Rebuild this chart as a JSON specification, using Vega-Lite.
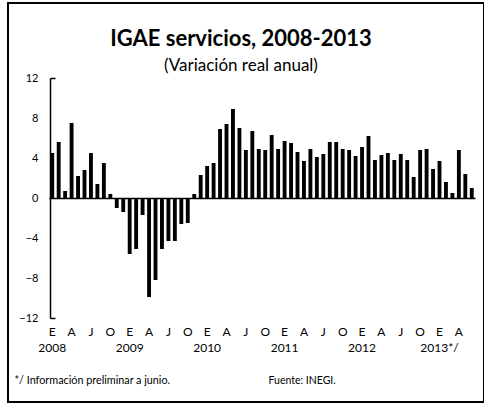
{
  "$schema": "https://vega.github.io/schema/vega-lite/v6.json",
  "autosize": {"type": "none"},
  "padding": {"left": 8, "top": 3, "right": 0, "bottom": 8},
  "width": 476,
  "height": 399,
  "background": "white",
  "title": {
    "text": "IGAE servicios, 2008-2013",
    "subtitle": "(Variación real anual)",
    "anchor": "middle",
    "offset": -72,
    "dx": -5,
    "font": "Lato",
    "fontSize": 22,
    "fontWeight": "bold",
    "color": "black",
    "subtitleFont": "Lato",
    "subtitleFontSize": 17,
    "subtitleColor": "black",
    "subtitlePadding": 7
  },
  "config": {
    "view": {"stroke": "black", "strokeWidth": 2},
    "font": "Lato",
    "axis": {"grid": false, "labelColor": "black", "titleColor": "black"}
  },
  "data": {
    "values": [
      {"periodo": "2008-01", "valor": 4.5}, {"periodo": "2008-02", "valor": 5.6}, {"periodo": "2008-03", "valor": 0.7},
      {"periodo": "2008-04", "valor": 7.5}, {"periodo": "2008-05", "valor": 2.2}, {"periodo": "2008-06", "valor": 2.8},
      {"periodo": "2008-07", "valor": 4.5}, {"periodo": "2008-08", "valor": 1.4}, {"periodo": "2008-09", "valor": 3.5},
      {"periodo": "2008-10", "valor": 0.4}, {"periodo": "2008-11", "valor": -1.0}, {"periodo": "2008-12", "valor": -1.4},
      {"periodo": "2009-01", "valor": -5.6}, {"periodo": "2009-02", "valor": -5.1}, {"periodo": "2009-03", "valor": -1.7},
      {"periodo": "2009-04", "valor": -9.9}, {"periodo": "2009-05", "valor": -8.2}, {"periodo": "2009-06", "valor": -5.1},
      {"periodo": "2009-07", "valor": -4.3}, {"periodo": "2009-08", "valor": -4.3}, {"periodo": "2009-09", "valor": -2.6},
      {"periodo": "2009-10", "valor": -2.5}, {"periodo": "2009-11", "valor": 0.4}, {"periodo": "2009-12", "valor": 2.3},
      {"periodo": "2010-01", "valor": 3.2}, {"periodo": "2010-02", "valor": 3.5}, {"periodo": "2010-03", "valor": 6.9},
      {"periodo": "2010-04", "valor": 7.4}, {"periodo": "2010-05", "valor": 8.9}, {"periodo": "2010-06", "valor": 7.0},
      {"periodo": "2010-07", "valor": 4.8}, {"periodo": "2010-08", "valor": 6.7}, {"periodo": "2010-09", "valor": 4.9},
      {"periodo": "2010-10", "valor": 4.8}, {"periodo": "2010-11", "valor": 6.3}, {"periodo": "2010-12", "valor": 4.9},
      {"periodo": "2011-01", "valor": 5.7}, {"periodo": "2011-02", "valor": 5.5}, {"periodo": "2011-03", "valor": 4.6},
      {"periodo": "2011-04", "valor": 3.7}, {"periodo": "2011-05", "valor": 4.9}, {"periodo": "2011-06", "valor": 4.1},
      {"periodo": "2011-07", "valor": 4.4}, {"periodo": "2011-08", "valor": 5.6}, {"periodo": "2011-09", "valor": 5.6},
      {"periodo": "2011-10", "valor": 4.9}, {"periodo": "2011-11", "valor": 4.8}, {"periodo": "2011-12", "valor": 4.2},
      {"periodo": "2012-01", "valor": 5.1}, {"periodo": "2012-02", "valor": 6.2}, {"periodo": "2012-03", "valor": 3.8},
      {"periodo": "2012-04", "valor": 4.3}, {"periodo": "2012-05", "valor": 4.5}, {"periodo": "2012-06", "valor": 3.8},
      {"periodo": "2012-07", "valor": 4.4}, {"periodo": "2012-08", "valor": 3.8}, {"periodo": "2012-09", "valor": 2.1},
      {"periodo": "2012-10", "valor": 4.8}, {"periodo": "2012-11", "valor": 4.9}, {"periodo": "2012-12", "valor": 2.9},
      {"periodo": "2013-01", "valor": 3.7}, {"periodo": "2013-02", "valor": 1.6}, {"periodo": "2013-03", "valor": 0.5},
      {"periodo": "2013-04", "valor": 4.8}, {"periodo": "2013-05", "valor": 2.4}, {"periodo": "2013-06", "valor": 1.0}
    ]
  },
  "layer": [
    {
      "mark": {"type": "bar", "color": "black"},
      "encoding": {
        "x": {
          "field": "periodo",
          "type": "ordinal",
          "scale": {"range": [41, 467], "paddingInner": 0.4, "paddingOuter": 0.2},
          "axis": {
            "orient": "bottom",
            "offset": -78,
            "domain": false,
            "ticks": false,
            "tickSize": 0,
            "labelPadding": 2,
            "labelAngle": 0,
            "labelOverlap": false,
            "labelBound": false,
            "labelFontSize": 12,
            "labelLineHeight": 16,
            "labelExpr": "substring(datum.value,5,7)=='01' ? ['E', substring(datum.value,0,4) + (substring(datum.value,0,4)=='2013' ? '*/' : '')] : substring(datum.value,5,7)=='04' ? 'A' : substring(datum.value,5,7)=='07' ? 'J' : substring(datum.value,5,7)=='10' ? 'O' : ''",
            "title": "*/ Información preliminar a junio.",
            "titleX": 6,
            "titleY": 59,
            "titleAlign": "left",
            "titleAnchor": "start",
            "titleBaseline": "alphabetic",
            "titleFontSize": 10.8,
            "titleFontWeight": "normal"
          }
        },
        "y": {
          "field": "valor",
          "type": "quantitative",
          "scale": {"domain": [-12, 12], "range": [315, 75], "nice": false, "zero": false},
          "axis": {
            "orient": "left",
            "offset": -42,
            "values": [-12, -8, -4, 0, 4, 8, 12],
            "domain": true,
            "domainColor": "black",
            "domainWidth": 1.5,
            "ticks": false,
            "tickSize": 0,
            "labelPadding": 12,
            "labelFontSize": 11,
            "title": null
          }
        }
      }
    },
    {
      "mark": {"type": "bar", "opacity": 0},
      "encoding": {
        "x": {
          "field": "periodo",
          "type": "ordinal",
          "axis": {
            "orient": "bottom",
            "offset": -204,
            "domain": true,
            "domainColor": "black",
            "domainWidth": 1.5,
            "ticks": false,
            "labels": false,
            "title": "Fuente: INEGI.",
            "titleX": 260,
            "titleY": 185,
            "titleAlign": "left",
            "titleAnchor": "start",
            "titleBaseline": "alphabetic",
            "titleFontSize": 10.5,
            "titleFontWeight": "normal"
          }
        },
        "y": {
          "field": "valor",
          "type": "quantitative",
          "axis": {
            "orient": "left",
            "offset": -42,
            "values": [-12, 12],
            "domain": false,
            "labels": false,
            "ticks": true,
            "tickSize": -5,
            "tickColor": "black",
            "tickWidth": 1.5,
            "title": null
          }
        }
      }
    }
  ],
  "resolve": {"axis": {"x": "independent", "y": "independent"}}
}
